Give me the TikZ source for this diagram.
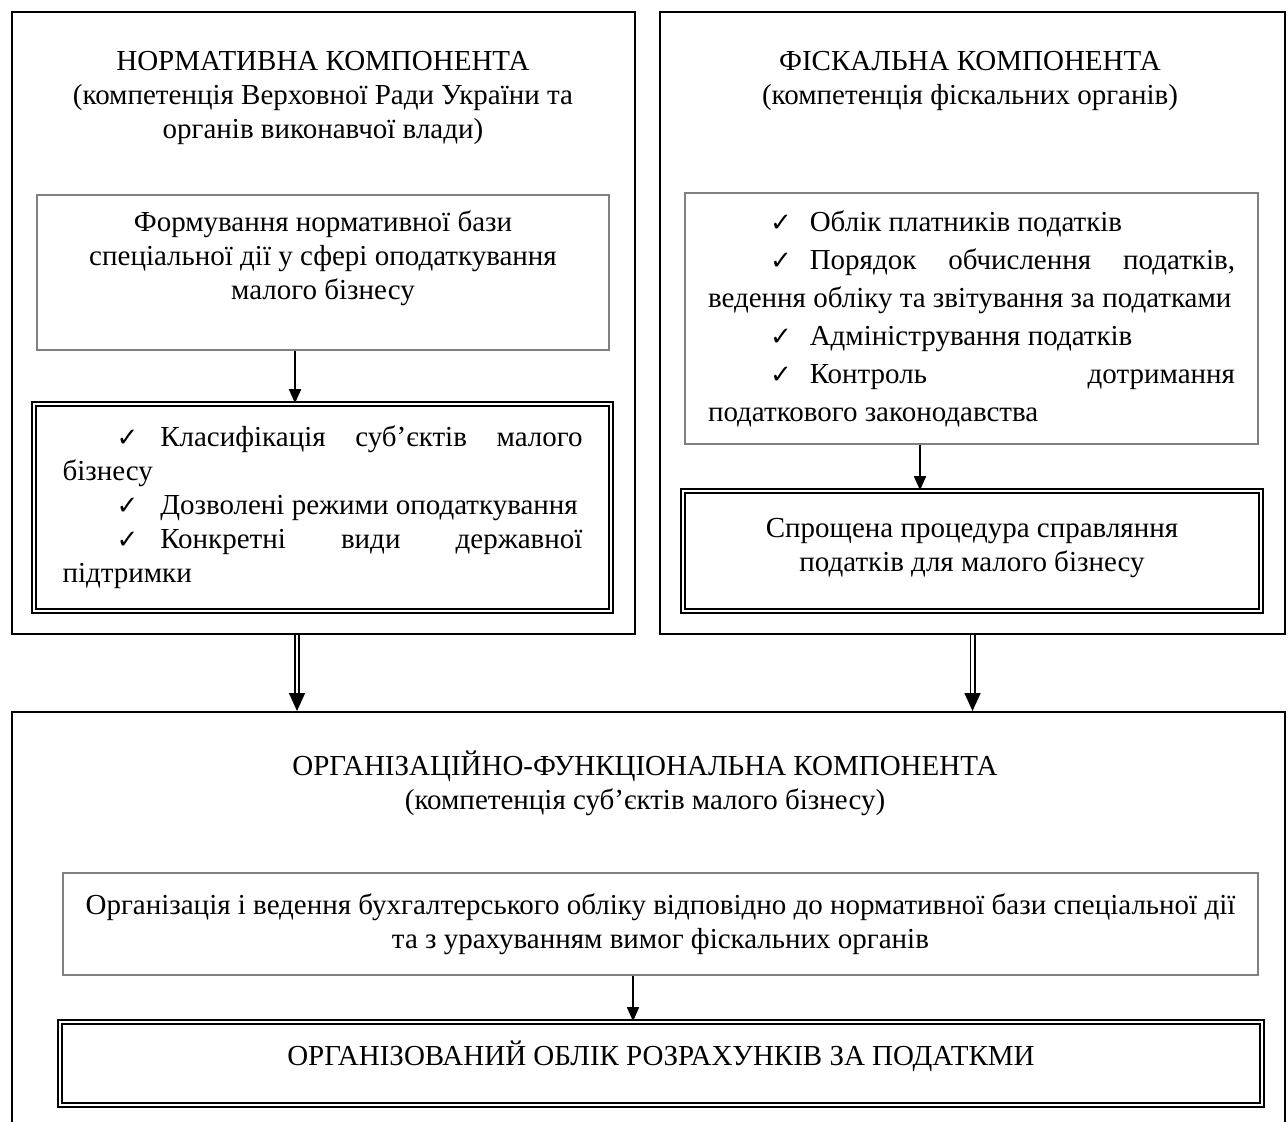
\documentclass[tikz,border=0pt]{standalone}
\usepackage{fontspec}
\setmainfont{Liberation Serif}
\newfontfamily\symfont{DejaVu Sans}
\usetikzlibrary{arrows.meta}

\newcommand{\chk}{{\symfont\fontsize{13}{13}\selectfont ✓}}
\newcommand{\itm}[3]{\hspace*{#1}\chk\hspace{#2}#3\par}

\begin{document}
\begin{tikzpicture}[x=0.5pt, y=-0.5pt,
  every node/.style={font=\fontsize{14.5}{17}\selectfont, inner sep=0pt},
  outerbox/.style={draw, line width=1pt},
  plainbox/.style={draw=gray, line width=0.7pt, align=center},
  dblbox/.style={draw, double, double distance=1.1pt, line width=0.8pt, align=center},
  arr/.style={-{Triangle[length=7pt, width=6pt]}, line width=0.8pt},
  dblarr/.style={double, double distance=1.4pt, line width=0.8pt, -{Triangle[length=9pt, width=8pt]}}]

  \useasboundingbox (0,0) rectangle (1288,1122);
  \clip (0,0) rectangle (1288,1122);

  % three components
  \node[outerbox, minimum width=311.5pt, minimum height=311pt] (lframe) at (323.5,323) {};
  \node[outerbox, minimum width=312.5pt, minimum height=311pt] (rframe) at (972.5,323) {};
  \node[outerbox, minimum width=636.5pt, minimum height=211.5pt] (bframe) at (648.5,923.5) {};

  \node[align=center] (ltitle) at (323,98) {НОРМАТИВНА КОМПОНЕНТА\\(компетенція Верховної Ради України та\\органів виконавчої влади)};
  \node[align=center] (rtitle) at (970,81) {ФІСКАЛЬНА КОМПОНЕНТА\\(компетенція фіскальних органів)};
  \node[align=center] (btitle) at (645,783) {ОРГАНІЗАЦІЙНО-ФУНКЦІОНАЛЬНА КОМПОНЕНТА\\(компетенція суб’єктів малого бізнесу)};

  % left
  \node[plainbox, text depth=17pt, minimum width=286pt, minimum height=77.5pt] (lform) at (323,272.5)
    {Формування нормативної бази\\спеціальної дії у сфері оподаткування\\малого бізнесу};
  \node[dblbox, minimum width=288.5pt, minimum height=103.5pt] (lclass) at (322.5,507.5)
    {\begin{minipage}{260pt}\fontsize{14.5}{17}\selectfont\parindent=0pt
      \itm{27pt}{11pt}{Класифікація суб’єктів малого\linebreak бізнесу}
      \itm{27pt}{11pt}{Дозволені режими оподаткування}
      \itm{27pt}{11pt}{Конкретні види державної\linebreak підтримки}
    \end{minipage}};

  % right
  \node[plainbox, minimum width=286.5pt, minimum height=125.5pt] (rlist) at (971.5,318.5)
    {\begin{minipage}{263.5pt}\fontsize{14.5}{19}\selectfont\parindent=0pt
      \itm{31pt}{9pt}{Облік платників податків}
      \itm{31pt}{9pt}{Порядок обчислення податків,\linebreak ведення обліку та звітування за податками}
      \itm{31pt}{9pt}{Адміністрування податків}
      \itm{31pt}{9pt}{Контроль дотримання\linebreak податкового законодавства}
    \end{minipage}};
  \node[dblbox, text depth=6pt, minimum width=289pt, minimum height=60pt] (rsimp) at (972,551)
    {Спрощена процедура справляння\\податків для малого бізнесу};

  % bottom
  \node[plainbox, minimum width=597.5pt, minimum height=51pt] (borg) at (660.5,924)
    {Організація і ведення бухгалтерського обліку відповідно до нормативної бази спеціальної дії\\та з урахуванням вимог фіскальних органів};
  \node[dblbox, text depth=10pt, minimum width=601pt, minimum height=41.5pt] (bres) at (661,1063.5)
    {ОРГАНІЗОВАНИЙ ОБЛІК РОЗРАХУНКІВ ЗА ПОДАТКМИ};

  % arrows
  \draw[arr] ([xshift=-14pt]lform.south) -- ([xshift=-14pt]lform.south |- lclass.north);
  \draw[arr] ([xshift=-25.75pt]rlist.south) -- ([xshift=-25.75pt]rlist.south |- rsimp.north);
  \draw[arr] ([xshift=-13.75pt]borg.south) -- ([xshift=-13.75pt]borg.south |- bres.north);
  \draw[dblarr] ([xshift=-13.25pt]lframe.south) -- ([xshift=-13.25pt]lframe.south |- bframe.north);
  \draw[dblarr] (rframe.south) -- (rframe.south |- bframe.north);
\end{tikzpicture}
\end{document}
